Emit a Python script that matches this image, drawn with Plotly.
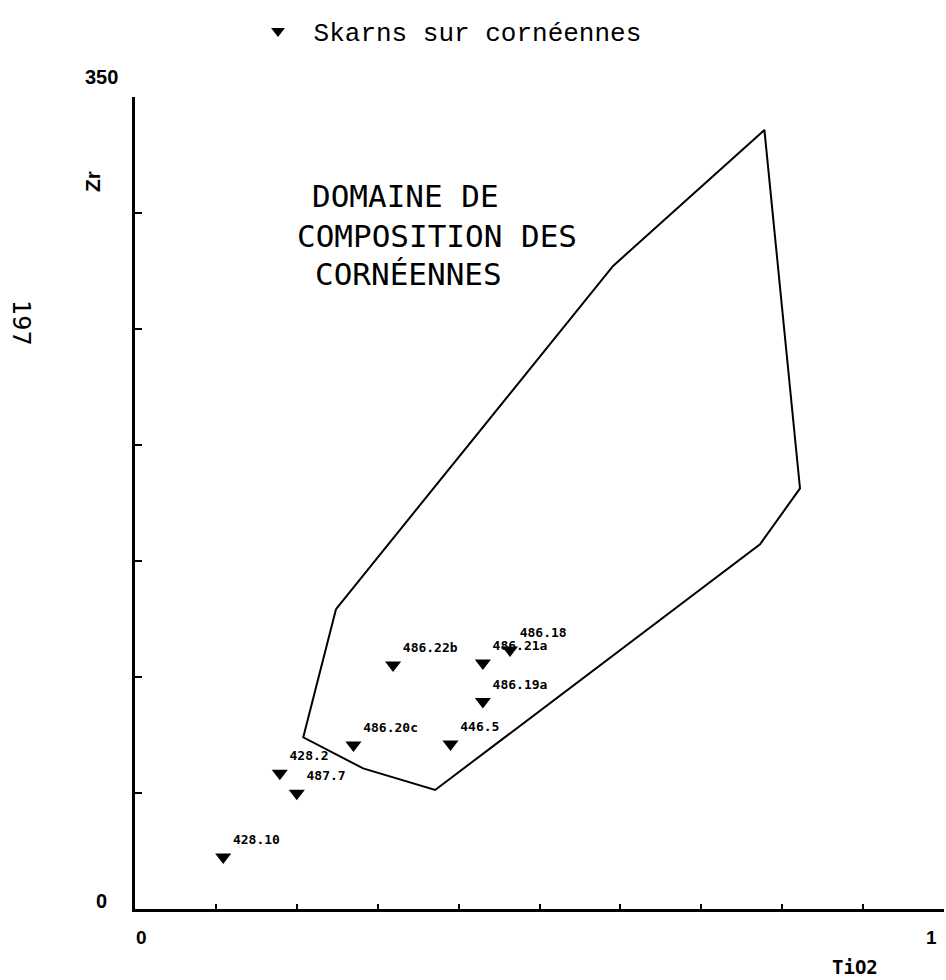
import plotly.graph_objects as go

# ---- data ----
sample_labels = ["428.10", "428.2", "487.7", "486.20c", "446.5",
                 "486.22b", "486.21a", "486.18", "486.19a"]
tio2 = [0.109, 0.179, 0.200, 0.270, 0.390, 0.319, 0.430, 0.4635, 0.430]
zr = [22.4, 58.5, 49.9, 70.7, 71.1, 105.2, 106.0, 111.6, 89.4]

domain_tio2 = [0.2485, 0.208, 0.282, 0.371, 0.7726, 0.822, 0.778, 0.591, 0.2485]
domain_zr = [129.3, 74.0, 60.6, 51.3, 157.2, 181.3, 335.8, 277.2, 129.3]

x_tick_vals = [0, 1]
x_tick_text = ["0", "1"]
y_tick_vals = [0, 350]
y_tick_text = ["0", "350"]
x_minor_ticks = [0.1, 0.2, 0.3, 0.4, 0.5, 0.6, 0.7, 0.8, 0.9, 1.0]
y_minor_ticks = [50, 100, 150, 200, 250, 300, 350]

domain_text = ["DOMAINE DE", "COMPOSITION DES", "CORNÉENNES"]
legend_name = "Skarns sur cornéennes"
x_title = "TiO2"
y_title = "Zr"
page_number = "197"

# ---- layout helpers (pixel -> paper) ----
L, R, T, B = 135, 944, 97, 909
W, H = 946, 980


def px(p):
    return (p - L) / (R - L)


def py(p):
    return (B - p) / (B - T)


fig = go.Figure()

fig.add_trace(go.Scatter(
    x=domain_tio2, y=domain_zr, mode="lines",
    line=dict(color="black", width=2),
    showlegend=False, hoverinfo="skip"))

fig.add_trace(go.Scatter(
    x=tio2, y=zr, mode="markers+text",
    marker=dict(symbol="triangle-down", size=14, color="black"),
    text=sample_labels, textposition="top right",
    textfont=dict(family="DejaVu Sans Mono", size=13, color="black", weight="bold"),
    name="&nbsp;" + legend_name, showlegend=True))

annotations = []
# domain text
for txt, (lx, ly) in zip(domain_text, [(310, 196), (295, 236), (313, 274)]):
    annotations.append(dict(x=px(lx), y=py(ly), xref="paper", yref="paper",
                            text=txt, showarrow=False, xanchor="left", yanchor="middle",
                            font=dict(family="DejaVu Sans Mono", size=31, color="black")))
# tick labels
for v, t, sh in zip(x_tick_vals, x_tick_text, [6, -13]):
    annotations.append(dict(x=v, y=py(937), xref="x", yref="paper", text=t,
                            showarrow=False, xshift=sh, xanchor="center", yanchor="middle",
                            font=dict(family="Liberation Sans", size=19, color="black", weight="bold")))
for v, t, ypix in zip(y_tick_vals, y_tick_text, [901, 77]):
    annotations.append(dict(x=px(101), y=py(ypix), xref="paper", yref="paper", text=t,
                            showarrow=False, xanchor="center", yanchor="middle",
                            font=dict(family="Liberation Sans", size=20, color="black", weight="bold")))
# axis titles
annotations.append(dict(x=px(855), y=py(967), xref="paper", yref="paper", text=x_title,
                        showarrow=False, xanchor="center", yanchor="middle",
                        font=dict(family="DejaVu Sans Mono", size=19, color="black", weight="bold")))
annotations.append(dict(x=px(92), y=py(182), xref="paper", yref="paper", text=y_title,
                        showarrow=False, textangle=-90, xanchor="center", yanchor="middle",
                        font=dict(family="Liberation Sans", size=21, color="black", weight="bold")))
annotations.append(dict(x=px(21), y=py(323), xref="paper", yref="paper", text=page_number,
                        showarrow=False, textangle=90, xanchor="center", yanchor="middle",
                        font=dict(family="DejaVu Sans", size=24, color="black")))

fig.update_layout(
    width=W, height=H,
    margin=dict(l=L, r=W - R, t=T, b=H - B),
    paper_bgcolor="white", plot_bgcolor="white",
    xaxis=dict(range=[0, 1], showgrid=False, zeroline=False,
               showline=True, linecolor="black", linewidth=3,
               tickmode="array", tickvals=x_minor_ticks, ticks="inside",
               ticklen=5, tickwidth=2, tickcolor="black", showticklabels=False),
    yaxis=dict(range=[0, 350], showgrid=False, zeroline=False,
               showline=True, linecolor="black", linewidth=3,
               tickmode="array", tickvals=y_minor_ticks, ticks="inside",
               ticklen=7, tickwidth=2, tickcolor="black", showticklabels=False),
    annotations=annotations,
    showlegend=True,
    legend=dict(x=px(258), y=py(31), xanchor="left", yanchor="middle",
                bgcolor="rgba(0,0,0,0)", borderwidth=0,
                font=dict(family="Liberation Mono", size=26, color="black"),
                itemsizing="constant"),
)

fig.write_html("out.html",
               config={"displayModeBar": False},
               post_script="document.body.style.margin='0';document.body.style.overflow='hidden';")
